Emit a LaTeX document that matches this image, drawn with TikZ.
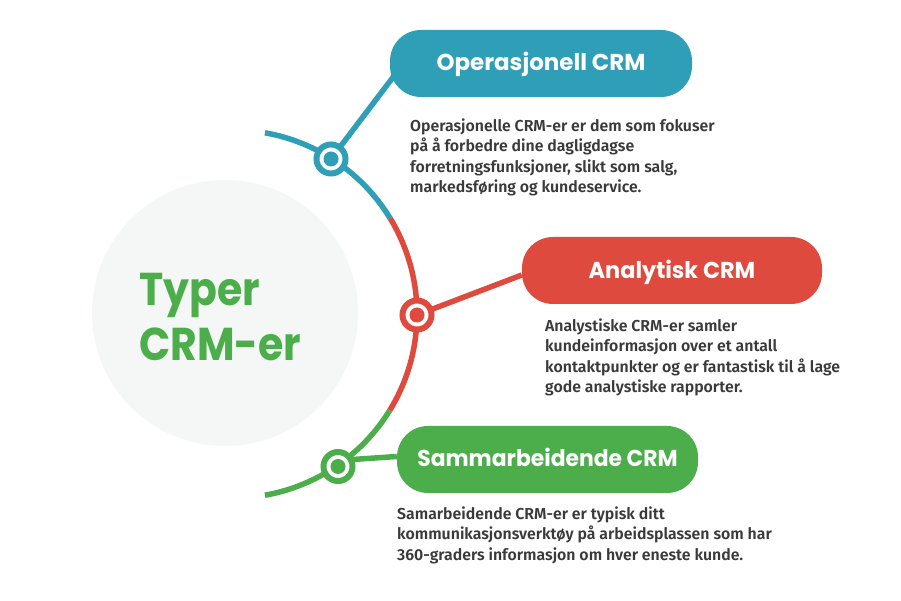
\documentclass[tikz,border=0pt]{standalone}
\usepackage{fontspec}
\usetikzlibrary{backgrounds,calc}
\setmainfont{Fira Sans}[UprightFont=*-SemiBold,BoldFont=*-Bold]
\newfontfamily\headfont{Poppins}[UprightFont=*-Bold,BoldFont=*-Bold,FakeStretch=0.95]
\newfontfamily\titlefont{Poppins}[UprightFont=*-Bold,BoldFont=*-Bold,FakeStretch=0.89]
\definecolor{teal}{HTML}{2F9FB8}
\definecolor{redc}{HTML}{DE4B3E}
\definecolor{greenc}{HTML}{4BAE4A}
\definecolor{ink}{HTML}{3A3A3A}
\definecolor{pale}{HTML}{F5F6F6}
\newcommand{\pilltext}[3]{\raisebox{#1}[0pt][0pt]{\scalebox{#2}[1]{#3}}}
\tikzset{
 pill/.style={rounded corners=31pt,minimum width=#1,minimum height=67pt,inner sep=0pt,text=white,font=\headfont\fontsize{23}{26}\selectfont},
 hub/.style={circle,draw=#1,fill=white,line width=6pt,minimum size=29pt,inner sep=0pt},
 dot/.style={circle,fill=#1,minimum size=15pt,inner sep=0pt},
 wire/.style={line width=5.5pt,draw=#1},
 body/.style={anchor=north west,inner sep=0pt,text=ink,align=left,font=\fontsize{15.85}{20.5}\selectfont}
}
\begin{document}
\begin{tikzpicture}[x=1pt,y=1pt]
\useasboundingbox (0,0) rectangle (901,601);
\node[anchor=west,inner sep=0pt,text=greenc,align=left,font=\titlefont\fontsize{46}{55}\selectfont] (title) at (139,284) {Typer\\CRM-er};
% hubs and pills
\node[hub=teal] (h1) at (331,442) {};
\node[hub=redc] (h2) at (417,286) {};
\node[hub=greenc] (h3) at (338,134.5) {};
\node[dot=teal] at (h1) {};
\node[dot=redc] at (h2) {};
\node[dot=greenc] at (h3) {};
\node[pill=302pt,fill=teal] (op) at (541,537.5) {\pilltext{-7.5pt}{1.05}{Operasjonell CRM}};
\node[pill=300pt,fill=redc] (an) at (672,330.5) {\pilltext{-8.5pt}{1.025}{Analytisk CRM}};
\node[pill=301pt,fill=greenc] (sa) at (547.5,141.5) {\pilltext{-7.5pt}{1}{Sammarbeidende CRM}};
\coordinate (opin) at (400,533);
% bodies
\node[body] (t1) at (410,482.5) {Operasjonelle CRM-er er dem som fokuser\\på å forbedre dine dagligdagse\\forretningsfunksjoner, slikt som salg,\\markedsføring og kundeservice.};
\node[body] (t2) at (545,282.5) {Analystiske CRM-er samler\\kundeinformasjon over et antall\\kontaktpunkter og er fantastisk til å lage\\gode analystiske rapporter.};
\node[body] (t3) at (397,94.5) {Samarbeidende CRM-er er typisk ditt\\kommunikasjonsverktøy på arbeidsplassen som har\\360-graders informasjon om hver eneste kunde.};
\begin{scope}[on background layer]
\fill[white] (0,0) rectangle (901,601);
\node[circle,fill=pale,minimum size=266pt,inner sep=0pt] (bg) at (225,288) {};
\coordinate (cen) at (233,287);
\draw[wire=teal] (cen) ++(80:184) arc[start angle=80,end angle=31.3,radius=184] coordinate (tr);
\draw[wire=redc] (tr) arc[start angle=31.3,end angle=-31.6,radius=184] coordinate (rg);
\draw[wire=greenc] (rg) arc[start angle=-31.6,end angle=-80,radius=184];
\draw[wire=teal] (h1.center) -- (opin);
\draw[wire=redc] (h2.center) -- ($(an.west)+(0,-4.5)$);
\draw[wire=greenc] ($(h3.center)+(0,6)$) -- ($(sa.west)+(0,3)$);
\end{scope}
\end{tikzpicture}
\end{document}
